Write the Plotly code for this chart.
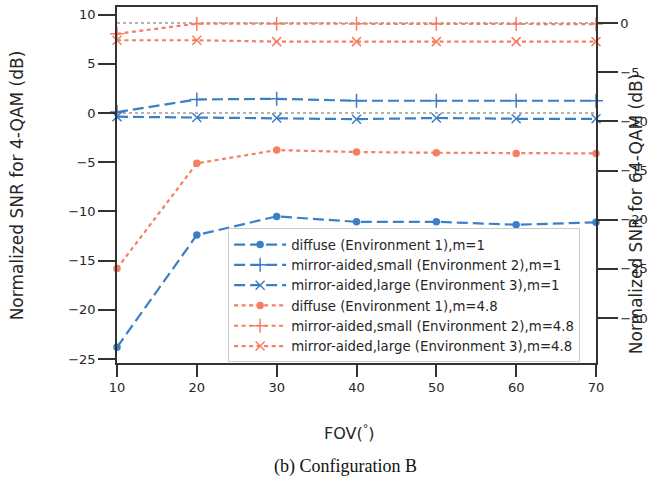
import plotly.graph_objects as go

fov = [10, 20, 30, 40, 50, 60, 70]

# m=1 series (left axis, 4-QAM)
diffuse_m1 = [-23.8, -12.4, -10.5, -11.05, -11.05, -11.35, -11.1]
small_m1 = [0.1, 1.38, 1.45, 1.25, 1.25, 1.25, 1.25]
large_m1 = [-0.37, -0.45, -0.5, -0.62, -0.5, -0.58, -0.58]

# m=4.8 series (right axis, 64-QAM)
diffuse_m48 = [-24.95, -14.27, -12.92, -13.12, -13.19, -13.26, -13.26]
small_m48 = [-1.1, -0.07, -0.07, -0.07, -0.07, -0.12, -0.12]
large_m48 = [-1.76, -1.76, -1.9, -1.9, -1.9, -1.9, -1.9]

names = [
    "diffuse (Environment 1),m=1",
    "mirror-aided,small (Environment 2),m=1",
    "mirror-aided,large (Environment 3),m=1",
    "diffuse (Environment 1),m=4.8",
    "mirror-aided,small (Environment 2),m=4.8",
    "mirror-aided,large (Environment 3),m=4.8",
]

left_ticks = [10, 5, 0, -5, -10, -15, -20, -25]
right_ticks = [0, -5, -10, -15, -20, -25, -30]
x_ticks = [10, 20, 30, 40, 50, 60, 70]

BLUE = "#3d7fc6"
ORANGE = "#f47f62"
FONT = "DejaVu Sans"
AX = "#333333"

fig = go.Figure()

blue_dash = "11px,5px"
orange_dash = "4px,3.5px"

series = [
    (diffuse_m1, names[0], BLUE, blue_dash, "circle", 6, "y"),
    (small_m1, names[1], BLUE, blue_dash, "cross-thin", 10, "y"),
    (large_m1, names[2], BLUE, blue_dash, "x-thin", 9, "y"),
    (diffuse_m48, names[3], ORANGE, orange_dash, "circle", 6, "y2"),
    (small_m48, names[4], ORANGE, orange_dash, "cross-thin", 10, "y2"),
    (large_m48, names[5], ORANGE, orange_dash, "x-thin", 9, "y2"),
]

for ys, nm, col, dash, sym, sz, ax in series:
    fig.add_trace(go.Scatter(
        x=fov, y=ys, name=nm, yaxis=ax, mode="lines+markers",
        line=dict(color=col, width=2.2, dash=dash),
        marker=dict(symbol=sym, size=sz, color=col,
                    line=dict(color=col, width=1.5)),
        cliponaxis=False,
    ))

# gray dotted reference lines at 0 dB on both axes
fig.add_shape(type="line", xref="paper", x0=0, x1=1, yref="y", y0=0, y1=0,
              line=dict(color="#999999", width=1.5, dash="dot"), layer="below")
fig.add_shape(type="line", xref="paper", x0=0, x1=1, yref="y2", y0=0, y1=0,
              line=dict(color="#999999", width=1.5, dash="dot"), layer="below")

fig.update_layout(
    width=648, height=482,
    margin=dict(l=117, r=52, t=7, b=119, autoexpand=False),
    plot_bgcolor="white", paper_bgcolor="white",
    font=dict(family=FONT, size=13, color="#262626"),
    showlegend=True,
    legend=dict(
        x=0.232, y=0.378, xanchor="left", yanchor="top",
        bgcolor="rgba(255,255,255,0.85)", bordercolor="#cccccc", borderwidth=1,
        font=dict(family=FONT, size=13.3, color="#262626"),
        itemwidth=52, tracegroupgap=0,
    ),
    xaxis=dict(
        range=[10, 70], tickvals=x_ticks, ticks="outside", ticklen=12,
        tickwidth=1.5, tickcolor=AX, showline=True, linecolor=AX, linewidth=1.5,
        mirror=True, showgrid=False, zeroline=False, automargin=False,
        tickfont=dict(family=FONT, size=13, color="#262626"),
    ),
    yaxis=dict(
        range=[-25.4, 10.78], tickvals=left_ticks,
        ticktext=[str(v).replace("-", "\u2212") for v in left_ticks],
        ticks="outside", ticklen=17, tickwidth=1.5, tickcolor=AX,
        showline=True, linecolor=AX, linewidth=1.5, showgrid=False,
        zeroline=False, automargin=False,
        tickfont=dict(family=FONT, size=13, color="#262626"),
    ),
    yaxis2=dict(
        range=[-34.56, 1.62], tickvals=right_ticks,
        ticktext=[str(v).replace("-", "\u2212") for v in right_ticks],
        overlaying="y", side="right", anchor="x",
        ticks="outside", ticklen=20, tickwidth=1.5, tickcolor=AX,
        showline=True, linecolor=AX, linewidth=1.5, showgrid=False,
        zeroline=False, automargin=False,
        tickfont=dict(family=FONT, size=13, color="#262626"),
    ),
)

# axis titles as annotations
fig.add_annotation(text="Normalized SNR for 4-QAM (dB)", xref="paper", yref="paper",
                   x=-0.208, y=0.5, xanchor="center", yanchor="middle",
                   textangle=-90, showarrow=False,
                   font=dict(family=FONT, size=17, color="#262626"))
fig.add_annotation(text="Normalized SNR for 64-QAM (dB)", xref="paper", yref="paper",
                   x=1.085, y=0.42, xanchor="center", yanchor="middle",
                   textangle=-90, showarrow=False,
                   font=dict(family=FONT, size=17, color="#262626"))
fig.add_annotation(text="FOV(<sup>°</sup>)", xref="paper", yref="paper",
                   x=0.485, y=-0.196, xanchor="center", yanchor="middle",
                   showarrow=False, font=dict(family=FONT, size=16, color="#262626"))
fig.add_annotation(text="(b) Configuration B", xref="paper", yref="paper",
                   x=0.478, y=-0.29, xanchor="center", yanchor="middle",
                   showarrow=False,
                   font=dict(family="Liberation Serif", size=18, color="#111111"))

fig.write_html(
    "out.html",
    config={"displayModeBar": False},
    post_script="document.body.style.margin='0';document.body.style.padding='0';",
)
